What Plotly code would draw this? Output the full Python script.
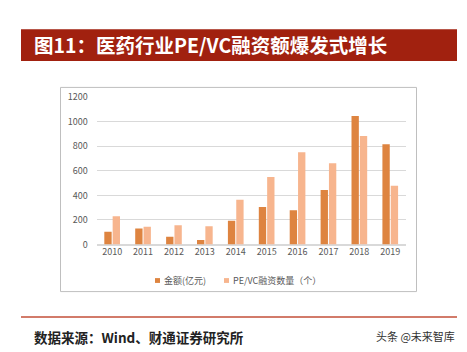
import plotly.graph_objects as go

years = ["2010", "2011", "2012", "2013", "2014", "2015", "2016", "2017", "2018", "2019"]
amount = [105, 130, 63, 37, 193, 305, 279, 444, 1044, 814]
deals = [230, 144, 157, 149, 365, 548, 751, 660, 882, 477]
yticks = [0, 200, 400, 600, 800, 1000, 1200]
names = ["金额(亿元)", "PE/VC融资数量（个）"]
colors = ["#DE8440", "#F7B58E"]

W, H = 467, 352
def px(x): return x / W
def py(y): return 1 - y / H

CJK = "Noto Sans CJK SC"
fig = go.Figure()
fig.add_trace(go.Bar(x=years, y=amount, name=names[0], marker=dict(color=colors[0], line=dict(width=0))))
fig.add_trace(go.Bar(x=years, y=deals, name=names[1], marker=dict(color=colors[1], line=dict(width=0))))

fig.update_layout(
    width=W, height=H, margin=dict(l=0, r=0, t=0, b=0),
    paper_bgcolor="white", plot_bgcolor="white",
    barmode="group", bargap=0.46, bargroupgap=0.12,
    font=dict(family=CJK, size=9, color="#595959"),
    xaxis=dict(domain=[px(96.7), px(405.7)], showgrid=False, showline=False, ticks="",
               tickfont=dict(size=9, color="#595959"), anchor="y"),
    yaxis=dict(domain=[py(246.7), py(93.3)], range=[0, 1200], tickvals=yticks,
               showgrid=True, gridcolor="#D9D9D9", gridwidth=1, zeroline=True, zerolinecolor="#D9D9D9",
               showline=False, ticks="", tickfont=dict(size=9, color="#595959"), ticklabelstandoff=8),
    showlegend=False,
)

shapes = [
    dict(type="rect", xref="paper", yref="paper", x0=px(21), x1=px(457), y0=py(56), y1=py(23),
         fillcolor="#A1210F", line=dict(width=0), layer="below"),
    dict(type="rect", xref="paper", yref="paper", x0=px(60.5), x1=px(416.5), y0=py(295.5), y1=py(83.5),
         fillcolor="rgba(0,0,0,0)", line=dict(color="#BFBFBF", width=1)),
    dict(type="line", xref="paper", yref="paper", x0=px(21), x1=px(457), y0=py(322), y1=py(322),
         line=dict(color="#D27B6A", width=2)),
]
# legend swatches
for x0, c in [(155, colors[0]), (224, colors[1])]:
    shapes.append(dict(type="rect", xref="paper", yref="paper", x0=px(x0), x1=px(x0 + 5),
                       y0=py(286.5), y1=py(281.5), fillcolor=c, line=dict(width=0)))
fig.update_layout(shapes=shapes)

for x0, n in [(162, names[0]), (231, names[1])]:
    fig.add_annotation(xref="paper", yref="paper", x=px(x0), y=py(284), xanchor="left", yanchor="middle",
                       text=n, showarrow=False, font=dict(family=CJK, size=9, color="#595959"))

fig.add_annotation(xref="paper", yref="paper", x=px(32), y=py(38.5), xanchor="left", yanchor="middle",
                   text="<b>图11：医药行业PE/VC融资额爆发式增长</b>", showarrow=False,
                   font=dict(family=CJK, size=19.5, color="white"))
fig.add_annotation(xref="paper", yref="paper", x=px(32), y=py(343), xanchor="left", yanchor="middle",
                   text="<b>数据来源：Wind、财通证券研究所</b>", showarrow=False,
                   font=dict(family=CJK, size=13.5, color="#222222"))
fig.add_annotation(xref="paper", yref="paper", x=px(457), y=py(342), xanchor="right", yanchor="middle",
                   text="头条 @未来智库", showarrow=False,
                   font=dict(family=CJK, size=11, color="#333333"))

fig.write_html("out.html")
